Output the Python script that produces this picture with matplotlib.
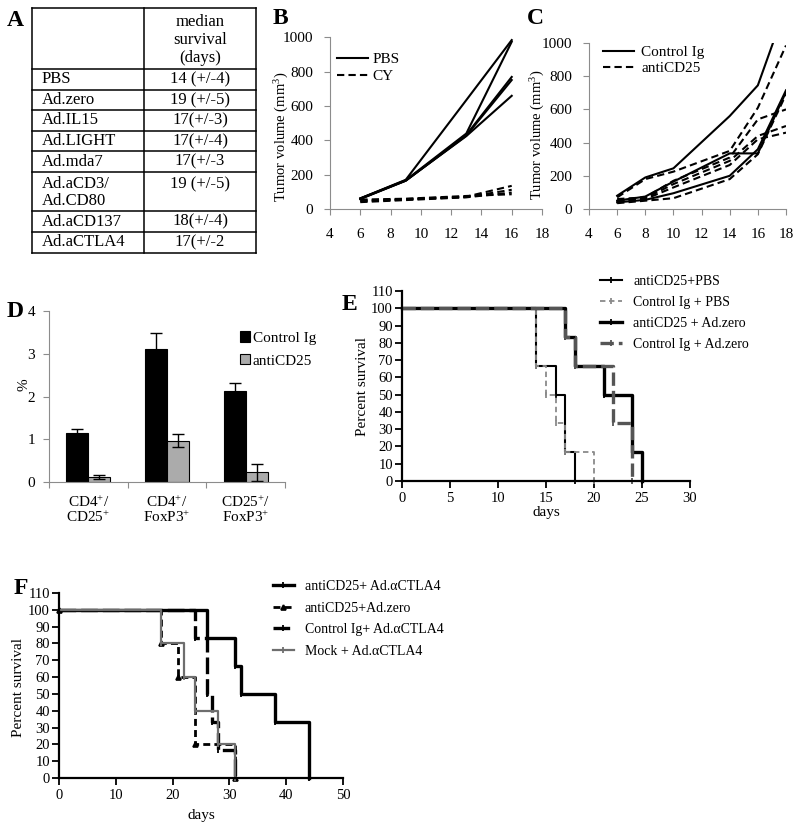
import numpy as np
import matplotlib
matplotlib.use("Agg")
import matplotlib.pyplot as plt
from matplotlib.lines import Line2D
from matplotlib.patches import Patch

plt.rcParams['font.family'] = ['Liberation Serif', 'DejaVu Serif']
plt.rcParams['mathtext.fontset'] = 'custom'
plt.rcParams['mathtext.rm'] = 'Liberation Serif'
plt.rcParams['mathtext.it'] = 'Liberation Serif:italic'
plt.rcParams['mathtext.bf'] = 'Liberation Serif:bold'

W, H = 800, 830

# --- A: median survival table ---
table_header = "median\nsurvival\n(days)"
table_groups = ["PBS", "Ad.zero", "Ad.IL15", "Ad.LIGHT", "Ad.mda7",
                "Ad.aCD3/\nAd.CD80", "Ad.aCD137", "Ad.aCTLA4"]
table_medians = ["14 (+/-4)", "19 (+/-5)", "17(+/-3)", "17(+/-4)", "17(+/-3",
                 "19 (+/-5)", "18(+/-4)", "17(+/-2"]

# --- B: tumor volume, PBS vs CY ---
b_days = [6, 9, 13, 16]
b_pbs = [[62, 170, 635, 985],
         [60, 168, 440, 975],
         [58, 165, 432, 770],
         [60, 165, 428, 752],
         [62, 166, 425, 660]]
b_cy = [[50, 58, 72, 135],
        [45, 55, 70, 112],
        [40, 52, 68, 96],
        [55, 60, 76, 86]]

# --- C: tumor volume, Control Ig vs antiCD25 ---
c_days = [6, 8, 10, 14, 16, 18]
c_ctrl = [[80, 190, 245, 560, 745, 1220],
          [50, 75, 165, 335, 335, 705],
          [40, 55, 95, 200, 360, 715]]
c_anti = [[70, 180, 225, 350, 610, 985],
          [60, 70, 170, 310, 540, 600],
          [50, 65, 150, 290, 440, 500],
          [45, 60, 130, 265, 420, 460],
          [35, 50, 65, 180, 330, 690]]

# --- D: Treg percentages ---
d_groups = ["CD4$^{+}$/\nCD25$^{+}$", "CD4$^{+}$/\nFoxP3$^{+}$", "CD25$^{+}$/\nFoxP3$^{+}$"]
d_ctrl = [1.15, 3.10, 2.14]
d_ctrl_err = [0.08, 0.39, 0.18]
d_anti = [0.12, 0.97, 0.23]
d_anti_err = [0.05, 0.15, 0.20]

# --- E: survival ---
e_labels = ["antiCD25+PBS", "Control Ig + PBS", "antiCD25 + Ad.zero", "Control Ig + Ad.zero"]
e_days = [[0, 14, 16, 17, 18],
          [0, 14, 15, 16, 17, 20],
          [0, 17, 18, 21, 24, 25],
          [0, 17, 18, 22, 24]]
e_surv = [[100, 66.7, 50, 16.7, 0],
          [100, 66.7, 50, 33.3, 16.7, 0],
          [100, 83.3, 66.7, 50, 16.7, 0],
          [100, 83.3, 66.7, 33.3, 0]]

# --- F: survival ---
f_labels = ["antiCD25+ Ad.\u03b1CTLA4", "antiCD25+Ad.zero",
            "Control Ig+ Ad.\u03b1CTLA4", "Mock + Ad.\u03b1CTLA4"]
f_days = [[0, 26, 31, 32, 38, 44],
          [0, 18, 21, 24, 31],
          [0, 24, 26, 27, 28, 31],
          [0, 18, 22, 24, 28, 31]]
f_surv = [[100, 83.3, 66.7, 50, 33.3, 0],
          [100, 80, 60, 20, 0],
          [100, 83.3, 50, 33.3, 16.7, 0],
          [100, 80, 60, 40, 20, 0]]


def box(l, t, r, b):
    # pixel box (left, top, right, bottom) -> figure fraction rect
    return [l / W, 1 - b / H, (r - l) / W, (b - t) / H]


def excel_style(ax):
    for s in ['top', 'right']:
        ax.spines[s].set_visible(False)
    for s in ['left', 'bottom']:
        ax.spines[s].set_color('#8c8c8c')
        ax.spines[s].set_linewidth(0.8)
    ax.tick_params(direction='out', length=4, width=0.8, color='#8c8c8c', labelsize=11)


def prism_style(ax):
    for s in ['top', 'right']:
        ax.spines[s].set_visible(False)
    for s in ['left', 'bottom']:
        ax.spines[s].set_color('k')
        ax.spines[s].set_linewidth(1.6)
    ax.tick_params(direction='out', length=5, width=1.3, labelsize=10.5)
    ax.tick_params(axis='y', pad=1.5)
    ax.tick_params(axis='x', pad=3)


fig = plt.figure(figsize=(8, 8.3), dpi=100)

# overlay for table and panel letters (pixel coords)
ov = fig.add_axes([0, 0, 1, 1])
ov.set_xlim(0, W)
ov.set_ylim(H, 0)
ov.axis('off')

# ---- A ----
tl, tm, tr, ttop = 32, 144, 256, 8
y = ttop + 61
bounds = [ttop, y]
for name in table_groups:
    y += 20.6 if '\n' not in name else 39.4
    bounds.append(y)
for yb in bounds:
    ov.plot([tl, tr], [yb, yb], color='k', lw=1.1, solid_capstyle='projecting')
for xv in (tl, tm, tr):
    ov.plot([xv, xv], [ttop, bounds[-1]], color='k', lw=1.1)
ov.text(200, 40, table_header, ha='center', va='center', fontsize=12, linespacing=1.2)
for i, (name, med) in enumerate(zip(table_groups, table_medians)):
    top, bot = bounds[i + 1], bounds[i + 2]
    lines = name.split('\n')
    if len(lines) == 1:
        yc = (top + bot) / 2
        ov.text(42, yc, name, ha='left', va='center', fontsize=12)
        ov.text(200, yc, med, ha='center', va='center', fontsize=12)
    else:
        for j, ln in enumerate(lines):
            ov.text(42, top + 12 + 17 * j, ln, ha='left', va='center', fontsize=12)
        ov.text(200, top + 12, med, ha='center', va='center', fontsize=12)

# panel letters
for letter, xl, yc in [('A', 7, 20), ('B', 273, 18), ('C', 527, 18),
                       ('D', 7, 311), ('E', 342, 304), ('F', 14, 588)]:
    ov.text(xl, yc, letter, ha='left', va='center', fontsize=17, fontweight='bold')

# ---- B ----
axB = fig.add_axes(box(330, 37.5, 542, 209))
for vals in b_pbs:
    axB.plot(b_days, vals, color='k', lw=1.5)
for vals in b_cy:
    axB.plot(b_days, vals, color='k', lw=1.5, ls=(0, (3.5, 2)))
axB.set_xlim(4, 18)
axB.set_ylim(0, 1000)
axB.set_xticks(range(4, 19, 2))
axB.set_yticks(range(0, 1001, 200))
excel_style(axB)
axB.tick_params(axis='x', pad=10)
axB.tick_params(axis='y', pad=8)
axB.set_ylabel("Tumor volume (mm$^3$)", fontsize=10.5)
axB.yaxis.set_label_coords(-0.182, 0.42)
axB.legend([Line2D([], [], color='k', lw=1.5), Line2D([], [], color='k', lw=1.5, ls=(0, (3.5, 2)))],
           ["PBS", "CY"], loc='center left', bbox_to_anchor=(337 / W, 1 - 68 / H),
           bbox_transform=fig.transFigure, frameon=False, fontsize=11,
           handlelength=2.0, handletextpad=0.3, labelspacing=0.2, borderpad=0, borderaxespad=0)

# ---- C ----
axC = fig.add_axes(box(589, 43, 786, 209))
for vals in c_ctrl:
    axC.plot(c_days, vals, color='k', lw=1.5)
for vals in c_anti:
    axC.plot(c_days, vals, color='k', lw=1.5, ls=(0, (3.5, 2)))
axC.set_xlim(4, 18)
axC.set_ylim(0, 1000)
axC.set_xticks(range(4, 19, 2))
axC.set_yticks(range(0, 1001, 200))
excel_style(axC)
axC.tick_params(axis='x', pad=10)
axC.tick_params(axis='y', pad=8)
axC.set_ylabel("Tumor volume (mm$^3$)", fontsize=10.5)
axC.yaxis.set_label_coords(-0.212, 0.446)
axC.legend([Line2D([], [], color='k', lw=1.5), Line2D([], [], color='k', lw=1.5, ls=(0, (3.5, 2)))],
           ["Control Ig", "antiCD25"], loc='center left', bbox_to_anchor=(603 / W, 1 - 60.5 / H),
           bbox_transform=fig.transFigure, frameon=False, fontsize=11,
           handlelength=2.0, handletextpad=0.5, labelspacing=0.15, borderpad=0, borderaxespad=0)

# ---- D ----
axD = fig.add_axes(box(49, 311, 285, 482))
x = np.arange(len(d_groups))
bw = 0.28
ek = dict(elinewidth=1, capthick=1, ecolor='k')
axD.bar(x - bw / 2, d_ctrl, bw, yerr=d_ctrl_err, color='k', edgecolor='k', lw=0.8,
        capsize=4, error_kw=ek, label="Control Ig")
axD.bar(x + bw / 2, d_anti, bw, yerr=d_anti_err, color='#ababab', edgecolor='k', lw=0.8,
        capsize=4, error_kw=ek, label="antiCD25")
axD.set_xlim(-0.5, 2.5)
axD.set_ylim(0, 4)
axD.set_yticks(range(0, 5))
excel_style(axD)
axD.set_xticks(x)
axD.set_xticklabels(d_groups, linespacing=1.0)
axD.set_xticks([-0.5, 0.5, 1.5, 2.5], minor=True)
axD.tick_params(axis='x', which='major', length=0, pad=9)
axD.tick_params(axis='x', which='minor', direction='out', length=4, width=0.8, color='#8c8c8c')
axD.tick_params(axis='y', pad=6)
axD.set_ylabel("%", fontsize=11)
axD.yaxis.set_label_coords(-0.08, 0.57)
axD.legend([Patch(facecolor='k', edgecolor='k', lw=0.8), Patch(facecolor='#ababab', edgecolor='k', lw=0.8)],
           ["Control Ig", "antiCD25"], loc='center left', bbox_to_anchor=(240 / W, 1 - 349.5 / H),
           bbox_transform=fig.transFigure, frameon=False, fontsize=11,
           handlelength=0.65, handleheight=0.65, handletextpad=0.2, labelspacing=0.6,
           borderpad=0, borderaxespad=0)

# ---- E ----
e_styles = [dict(color='k', lw=1.5, ls='-', marker='|', ms=5),
            dict(color='#8a8a8a', lw=1.3, ls=(0, (3, 2)), marker='|', ms=5),
            dict(color='k', lw=2.4, ls='-', marker='|', ms=5),
            dict(color='#555555', lw=2.4, ls=(0, (4, 1.5)), marker='|', ms=5)]
axE = fig.add_axes(box(402, 291, 690, 481))
e_lines = []
for d, s, lab, st in zip(e_days, e_surv, e_labels, e_styles):
    ln, = axE.step(d, s, where='post', label=lab, mew=1.3, clip_on=False, **st)
    e_lines.append(ln)
axE.set_xlim(0, 30)
axE.set_ylim(0, 110)
axE.set_xticks(range(0, 31, 5))
axE.set_yticks(range(0, 111, 10))
prism_style(axE)
axE.set_ylabel("Percent survival", fontsize=11)
axE.yaxis.set_label_coords(-0.115, 0.495)
axE.set_xlabel("days", fontsize=11)
axE.xaxis.set_label_coords(0.5, -0.13)
axE.legend(e_lines, e_labels, loc='center left', bbox_to_anchor=(600 / W, 1 - 313 / H),
           bbox_transform=fig.transFigure, frameon=False, fontsize=10, numpoints=1,
           handlelength=1.6, handletextpad=0.8, labelspacing=0.58, borderpad=0, borderaxespad=0)

# ---- F ----
f_styles = [dict(color='k', lw=2.4, ls='-', marker='|', ms=5),
            dict(color='k', lw=2.0, ls=(0, (2.5, 1.5)), marker='^', ms=3.5),
            dict(color='k', lw=2.4, ls=(0, (5, 1.5)), marker='|', ms=5),
            dict(color='#6e6e6e', lw=1.6, ls='-', marker='|', ms=5)]
axF = fig.add_axes(box(59, 593, 343, 778))
f_lines = []
for d, s, lab, st in zip(f_days, f_surv, f_labels, f_styles):
    ln, = axF.step(d, s, where='post', label=lab, mew=1.3, clip_on=False, **st)
    f_lines.append(ln)
axF.set_xlim(0, 50)
axF.set_ylim(0, 110)
axF.set_xticks(range(0, 51, 10))
axF.set_yticks(range(0, 111, 10))
prism_style(axF)
axF.set_ylabel("Percent survival", fontsize=11)
axF.yaxis.set_label_coords(-0.12, 0.49)
axF.set_xlabel("days", fontsize=11)
axF.xaxis.set_label_coords(0.5, -0.168)
axF.legend(f_lines, f_labels, loc='center left', bbox_to_anchor=(273 / W, 1 - 619 / H),
           bbox_transform=fig.transFigure, frameon=False, fontsize=10, numpoints=1,
           handlelength=1.5, handletextpad=0.8, labelspacing=0.62, borderpad=0, borderaxespad=0)

fig.savefig("out.png", dpi=100)
